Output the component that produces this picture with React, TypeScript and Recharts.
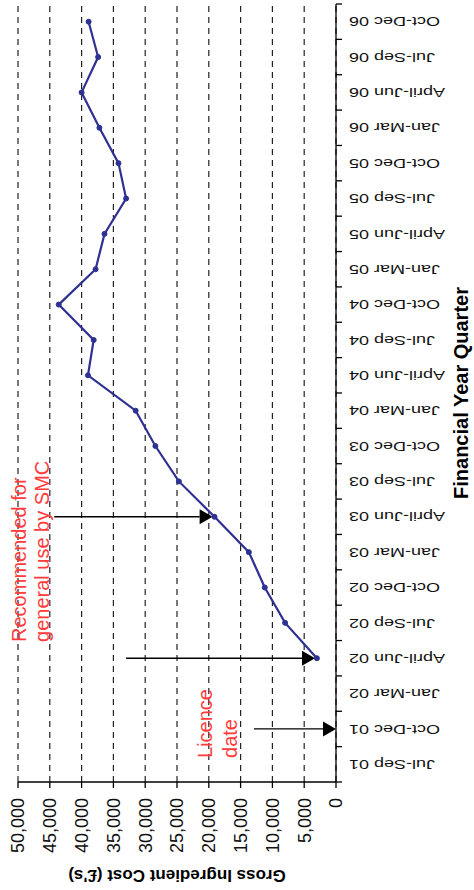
import React from 'react';
import { LineChart, Line, XAxis, YAxis, CartesianGrid, ReferenceLine, ReferenceDot } from 'recharts';

const quarters = [
  'Jul-Sep 01', 'Oct-Dec 01',
  'Jan-Mar 02', 'April-Jun 02', 'Jul-Sep 02', 'Oct-Dec 02',
  'Jan-Mar 03', 'April-Jun 03', 'Jul-Sep 03', 'Oct-Dec 03',
  'Jan-Mar 04', 'April-Jun 04', 'Jul-Sep 04', 'Oct-Dec 04',
  'Jan-Mar 05', 'April-Jun 05', 'Jul-Sep 05', 'Oct-Dec 05',
  'Jan-Mar 06', 'April-Jun 06', 'Jul-Sep 06', 'Oct-Dec 06',
];

const grossCost: (number | null)[] = [
  null, null,
  null, 3000, 8000, 11200,
  13700, 19100, 24700, 28400,
  31500, 39000, 38100, 43600,
  37800, 36400, 33000, 34200,
  37200, 40000, 37400, 38900,
];

const valueTicks = [0, 5000, 10000, 15000, 20000, 25000, 30000, 35000, 40000, 45000, 50000];

// arrows: category position (quarter index + 0.5), tail value, tip value
const arrowPos = [7.5, 3.5, 1.5];
const arrowFrom = [44300, 33000, 12900];
const arrowTo = [19400, 3300, 0];

// annotations: position along category axis, value of baseline, text
const notePos = [3.96, 3.96, 0.68, 0.68];
const noteValue = [48700, 45200, 19500, 15600];
const noteText = ['Recommended for', 'general use by SMC', 'Licence', 'date'];

const FONT = '"Liberation Sans", Arial, sans-serif';
const CAT_TICK_SIZE = 6;
const CAT_TICK_MARGIN = 7;

const chartData = quarters.map((q, i) => ({ pos: i + 0.5, quarter: q, cost: grossCost[i] }));
const catTicks: number[] = [];
for (let i = 0; i <= quarters.length; i++) {
  catTicks.push(i);
  if (i < quarters.length) catTicks.push(i + 0.5);
}

const fmt = (v: number) => v.toLocaleString('en-US');

const CatTick = (props: any) => {
  const { x, y, payload } = props;
  const v = payload.value as number;
  if (Number.isInteger(v)) {
    const y0 = y - CAT_TICK_MARGIN - CAT_TICK_SIZE;
    return <line x1={x} x2={x} y1={y0} y2={y0 + CAT_TICK_SIZE} stroke="#000" strokeWidth={1.3} />;
  }
  const label = quarters[Math.floor(v)];
  return (
    <text
      transform={`translate(${x},${y}) rotate(-90) scale(1.5,1)`}
      textAnchor="end"
      dominantBaseline="central"
      fontSize={12}
      fontFamily={FONT}
      fill="#111"
    >
      {label}
    </text>
  );
};

const ArrowShape = (props: any) => {
  const { x1, y1, x2, y2 } = props;
  const len = 13;
  const half = 7.5;
  const dx = x2 - x1;
  const dy = y2 - y1;
  const d = Math.sqrt(dx * dx + dy * dy) || 1;
  const ux = dx / d;
  const uy = dy / d;
  const bx = x2 - ux * len;
  const by = y2 - uy * len;
  const pts = `${x2},${y2} ${bx - uy * half},${by + ux * half} ${bx + uy * half},${by - ux * half}`;
  return (
    <g>
      <line x1={x1} y1={y1} x2={bx} y2={by} stroke="#000" strokeWidth={1.3} />
      <polygon points={pts} fill="#000" />
    </g>
  );
};

const noteShape = (text: string) => (props: any) => (
  <text x={props.cx} y={props.cy} fontSize={20} fontFamily={FONT} fill="#FF3B3B" textAnchor="start">
    {text}
  </text>
);

export default function App() {
  return (
    <div>
      <style>{`body{margin:0;overflow:hidden;}`}</style>
      <div
        style={{
          position: 'absolute',
          left: -208,
          top: 208,
          width: 890,
          height: 474,
          transform: 'rotate(-90deg)',
          transformOrigin: '50% 50%',
          background: '#fff',
        }}
      >
        <LineChart
          width={890}
          height={474}
          data={chartData}
          margin={{ top: 18, right: 4, bottom: 0, left: 0 }}
          style={{ fontFamily: FONT }}
        >
          <CartesianGrid vertical={false} stroke="#222" strokeWidth={1.2} strokeDasharray="6 5" />
          <XAxis
            dataKey="pos"
            type="number"
            domain={[0, quarters.length]}
            ticks={catTicks}
            interval={0}
            allowDecimals
            tickLine={false}
            tickSize={CAT_TICK_SIZE}
            tickMargin={CAT_TICK_MARGIN}
            tick={<CatTick />}
            axisLine={{ stroke: '#000', strokeWidth: 1.3 }}
            height={138}
            label={{
              content: (p: any) => {
                const vb = p.viewBox || { x: 108, y: 336, width: 778, height: 138 };
                return (
                  <text
                    x={vb.x + vb.width / 2}
                    y={vb.y + 132}
                    textAnchor="middle"
                    fontSize={20}
                    fontWeight="bold"
                    fontFamily={FONT}
                    fill="#000"
                  >
                    Financial Year Quarter
                  </text>
                );
              },
            }}
          />
          <YAxis
            type="number"
            domain={[0, 50000]}
            ticks={valueTicks}
            interval={0}
            tickFormatter={fmt}
            width={108}
            tickSize={6}
            tickMargin={10}
            tick={{ fontSize: 18, fill: '#111', fontFamily: FONT }}
            tickLine={{ stroke: '#000', strokeWidth: 1.3 }}
            axisLine={{ stroke: '#000', strokeWidth: 1.3 }}
            label={{
              content: (p: any) => {
                const vb = p.viewBox || { x: 0, y: 18, width: 108, height: 318 };
                const cx = vb.x + 20;
                const cy = vb.y + vb.height / 2;
                return (
                  <text
                    x={cx}
                    y={cy}
                    transform={`rotate(-90 ${cx} ${cy})`}
                    textAnchor="middle"
                    fontSize={17}
                    fontWeight="bold"
                    fontFamily={FONT}
                    fill="#000"
                  >
                    Gross Ingredient Cost (£'s)
                  </text>
                );
              },
            }}
          />
          {arrowPos.map((p, i) => (
            <ReferenceLine
              key={`a${i}`}
              segment={[
                { x: p, y: arrowFrom[i] },
                { x: p, y: arrowTo[i] },
              ]}
              shape={ArrowShape}
              ifOverflow="visible"
            />
          ))}
          <Line
            type="linear"
            dataKey="cost"
            stroke="#2E3192"
            strokeWidth={2.2}
            dot={{ r: 2.5, fill: '#2E3192', stroke: '#2E3192', strokeWidth: 1 }}
            activeDot={false}
            isAnimationActive={false}
          />
          {notePos.map((p, i) => (
            <ReferenceDot
              key={`n${i}`}
              x={p}
              y={noteValue[i]}
              r={0}
              ifOverflow="visible"
              shape={noteShape(noteText[i])}
            />
          ))}
        </LineChart>
      </div>
    </div>
  );
}
